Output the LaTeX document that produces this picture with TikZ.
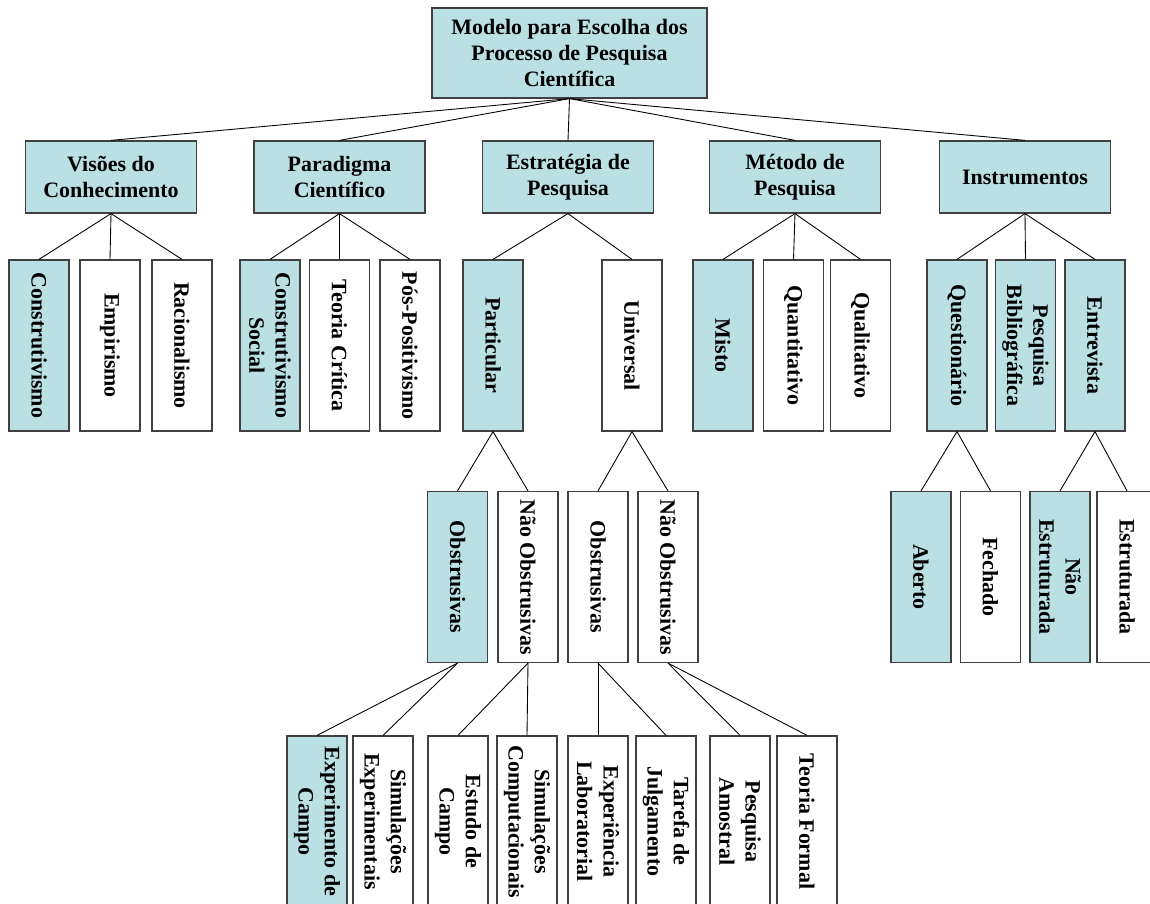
\documentclass[tikz,border=0pt]{standalone}
\usepackage{fontspec}
\setmainfont{Liberation Serif}
\usepackage{tikz}
\definecolor{lightteal}{RGB}{187,224,227}
\tikzstyle{topic}=[shape=rectangle,draw=black!75,fill=lightteal,line width=0.7pt,minimum width=3.42cm,minimum height=1.44cm,align=center,inner sep=1pt,font=\bfseries\fontsize{12.5}{15}\selectfont]
\tikzstyle{opt}=[shape=rectangle,draw=black!75,fill=white,line width=0.7pt,rotate=-90,minimum width=3.42cm,minimum height=1.2cm,align=center,inner sep=1pt,font=\bfseries\fontsize{12.5}{15}\selectfont]
\tikzstyle{sel}=[opt,fill=lightteal]
\tikzstyle{ln}=[draw,line width=0.5pt]

\begin{document}
\begin{tikzpicture}[]
\useasboundingbox (0,0) rectangle (23,-18.08);

% root
\node[topic,minimum width=5.5cm,minimum height=1.8cm] (root) at (11.39,-1.06) {Modelo para Escolha dos\\Processo de Pesquisa\\Científica};

% topics
\node[topic] (vis) at (2.22,-3.54) {Visões do\\Conhecimento};
\node[topic] (par) at (6.79,-3.54) {Paradigma\\Científico};
\node[topic] (est) at (11.36,-3.54) {Estratégia de\\Pesquisa};
\node[topic] (met) at (15.9,-3.54) {Método de\\Pesquisa};
\node[topic] (ins) at (20.5,-3.54) {Instrumentos};

% second level
\node[sel] (vis1) at (0.78,-6.91) {Construtivismo};
\node[opt] (vis2) at (2.2,-6.91) {Empirismo};
\node[opt] (vis3) at (3.64,-6.91) {Racionalismo};
\node[sel] (par1) at (5.4,-6.91) {Construtivismo\\Social};
\node[opt] (par2) at (6.79,-6.91) {Teoria Crítica};
\node[opt] (par3) at (8.2,-6.91) {Pós-Positivismo};
\node[sel] (est1) at (9.86,-6.91) {Particular};
\node[opt] (est2) at (12.64,-6.91) {Universal};
\node[sel] (met1) at (14.46,-6.91) {Misto};
\node[opt] (met2) at (15.87,-6.91) {Quantitativo};
\node[opt] (met3) at (17.21,-6.91) {Qualitativo};
\node[sel] (ins1) at (19.14,-6.91) {Questionário};
\node[sel] (ins2) at (20.51,-6.91) {Pesquisa\\Bibliográfica};
\node[sel] (ins3) at (21.9,-6.91) {Entrevista};

% third level
\node[sel] (pa1) at (9.15,-11.54) {Obstrusivas};
\node[opt] (pa2) at (10.56,-11.54) {Não Obstrusivas};
\node[opt] (un1) at (11.96,-11.54) {Obstrusivas};
\node[opt] (un2) at (13.36,-11.54) {Não Obstrusivas};
\node[sel] (qu1) at (18.42,-11.54) {Aberto};
\node[opt] (qu2) at (19.81,-11.54) {Fechado};
\node[sel] (en1) at (21.2,-11.54) {Não\\Estruturada};
\node[opt] (en2) at (22.54,-11.54) {Estruturada};

% fourth level
\node[sel] (ob1) at (6.34,-16.43) {Experimento de\\Campo};
\node[opt] (ob2) at (7.66,-16.43) {Simulações\\Experimentais};
\node[opt] (no1) at (9.16,-16.43) {Estudo de\\Campo};
\node[opt] (no2) at (10.54,-16.43) {Simulações\\Computacionais};
\node[opt] (ob3) at (11.96,-16.43) {Experiência\\Laboratorial};
\node[opt] (ob4) at (13.32,-16.43) {Tarefa de\\Julgamento};
\node[opt] (no3) at (14.8,-16.43) {Pesquisa\\Amostral};
\node[opt] (no4) at (16.14,-16.43) {Teoria Formal};

%paths
\path [ln] (root.south) -- (vis.north);
\path [ln] (root.south) -- (par.north);
\path [ln] (root.south) -- (est.north);
\path [ln] (root.south) -- (met.north);
\path [ln] (root.south) -- (ins.north);

\path [ln] (vis.south) -- (vis1.west);
\path [ln] (vis.south) -- (vis2.west);
\path [ln] (vis.south) -- (vis3.west);
\path [ln] (par.south) -- (par1.west);
\path [ln] (par.south) -- (par2.west);
\path [ln] (par.south) -- (par3.west);
\path [ln] (est.south) -- (est1.west);
\path [ln] (est.south) -- (est2.west);
\path [ln] (met.south) -- (met1.west);
\path [ln] (met.south) -- (met2.west);
\path [ln] (met.south) -- (met3.west);
\path [ln] (ins.south) -- (ins1.west);
\path [ln] (ins.south) -- (ins2.west);
\path [ln] (ins.south) -- (ins3.west);

\path [ln] (est1.east) -- (pa1.west);
\path [ln] (est1.east) -- (pa2.west);
\path [ln] (est2.east) -- (un1.west);
\path [ln] (est2.east) -- (un2.west);
\path [ln] (ins1.east) -- (qu1.west);
\path [ln] (ins1.east) -- (qu2.west);
\path [ln] (ins3.east) -- (en1.west);
\path [ln] (ins3.east) -- (en2.west);

\path [ln] (pa1.east) -- (ob1.west);
\path [ln] (pa1.east) -- (ob2.west);
\path [ln] (pa2.east) -- (no1.west);
\path [ln] (pa2.east) -- (no2.west);
\path [ln] (un1.east) -- (ob3.west);
\path [ln] (un1.east) -- (ob4.west);
\path [ln] (un2.east) -- (no3.west);
\path [ln] (un2.east) -- (no4.west);

\end{tikzpicture}
\end{document}
